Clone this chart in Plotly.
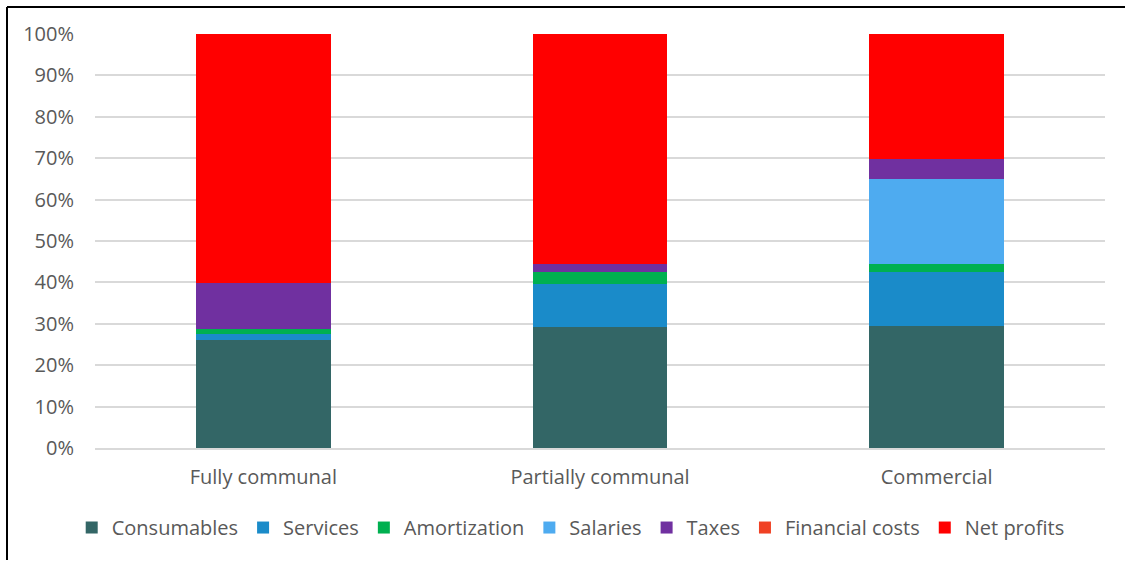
import plotly.graph_objects as go

categories = ["Fully communal", "Partially communal", "Commercial"]

consumables = [26.2, 29.2, 29.5]
services = [1.3, 10.3, 12.9]
amortization = [1.2, 3.1, 2.1]
salaries = [0.0, 0.0, 20.4]
taxes = [11.1, 1.9, 4.9]
financial_costs = [0.0, 0.0, 0.0]
net_profits = [60.2, 55.5, 30.2]

series = [
    ("Consumables", consumables, "#336666"),
    ("Services", services, "#1a8bc9"),
    ("Amortization", amortization, "#00b050"),
    ("Salaries", salaries, "#4eabf0"),
    ("Taxes", taxes, "#7030a0"),
    ("Financial costs", financial_costs, "#f04124"),
    ("Net profits", net_profits, "#ff0000"),
]

y_ticks = [0, 10, 20, 30, 40, 50, 60, 70, 80, 90, 100]
y_tick_labels = [f"{t}%" for t in y_ticks]

fig = go.Figure()
for name, vals, color in series:
    fig.add_trace(go.Bar(
        name=name, x=categories, y=vals, marker_color=color,
        marker_line_width=0, width=0.4,
    ))

font_family = "Open Sans, Noto Sans, sans-serif"
text_color = "#595959"
W, H = 1125, 561
ml, mr, mt, mb = 95, 20, 34, 113
pw, ph = W - ml - mr, H - mt - mb


def px_x(px):
    return (px - ml) / pw


def px_y(py):
    return (H - mb - py) / ph


fig.update_layout(
    barmode="stack",
    width=W, height=H,
    margin=dict(l=ml, r=mr, t=mt, b=mb),
    plot_bgcolor="white",
    paper_bgcolor="white",
    font=dict(family=font_family, size=20, color=text_color),
    showlegend=True,
    legend=dict(
        orientation="h", x=0.471, xanchor="center", y=-0.145, yanchor="top",
        font=dict(size=20, color=text_color), traceorder="normal",
        itemwidth=30,
    ),
    xaxis=dict(
        showgrid=False, showline=True, linecolor="#d9d9d9", linewidth=2,
        ticks="", ticklabelstandoff=10,
        tickfont=dict(size=20, color=text_color),
    ),
    yaxis=dict(
        range=[0, 100], tickvals=y_ticks, ticktext=y_tick_labels,
        showgrid=True, gridcolor="#d9d9d9", gridwidth=2,
        zeroline=False, showline=False, ticks="", ticklabelstandoff=20,
        tickfont=dict(size=20, color=text_color),
    ),
    bargap=0.6,
    shapes=[
        dict(type="line", xref="paper", yref="paper",
             x0=px_x(7), x1=px_x(7), y0=px_y(7), y1=px_y(560),
             line=dict(color="black", width=2)),
        dict(type="line", xref="paper", yref="paper",
             x0=px_x(7), x1=px_x(1125), y0=px_y(7), y1=px_y(7),
             line=dict(color="black", width=2)),
    ],
)

fig.write_html("out.html")
